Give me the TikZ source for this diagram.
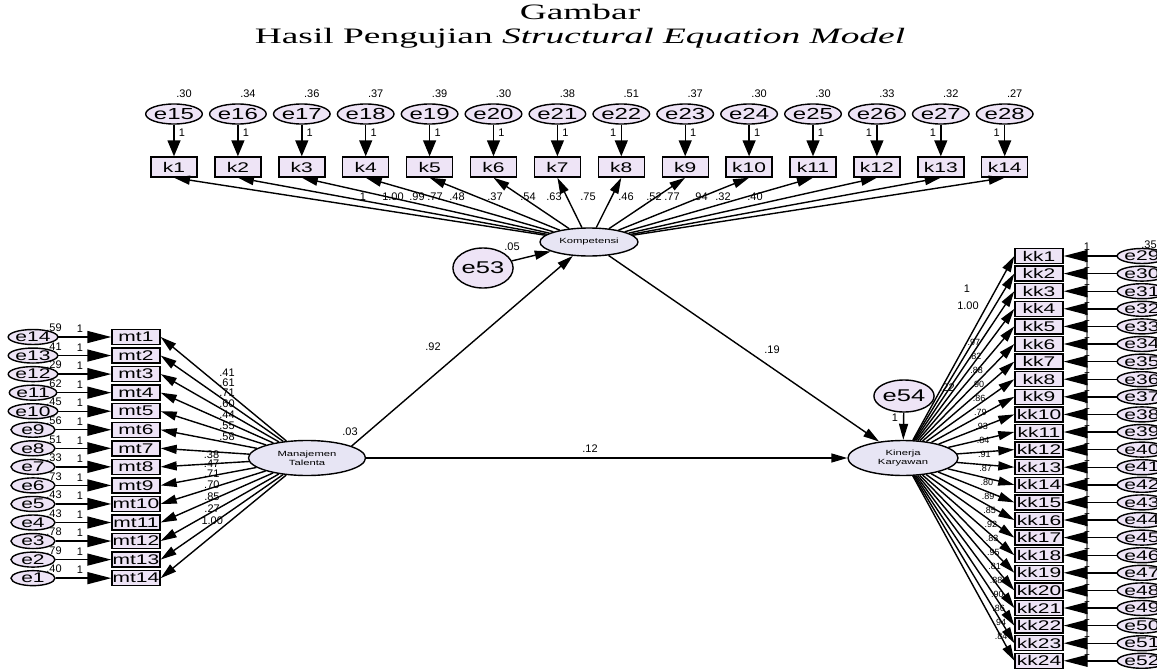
\documentclass[tikz,border=0pt]{standalone}
\usepackage{fontspec}
\setmainfont{Liberation Sans}
\newfontfamily\titlefont[FakeStretch=1.7]{Liberation Serif}
\newfontfamily\amosfont[FakeStretch=1.5]{Liberation Sans}
\usetikzlibrary{arrows.meta,shapes.geometric}
\definecolor{lavender}{RGB}{238,228,246}
\definecolor{latentfill}{RGB}{231,229,244}
\begin{document}
\begin{tikzpicture}[x=1pt, y=-1pt, line width=1.4pt,
    >={Triangle[length=16pt, width=9pt]},
    headtop/.style={-{Triangle[length=16pt, width=13pt]}},
    headside/.style={-{Triangle[length=24pt, width=12pt]}},
    errtop/.style={ellipse, draw, fill=lavender, inner sep=0pt, minimum width=52pt, minimum height=20pt, font=\amosfont\fontsize{16}{16}\selectfont},
    errside/.style={ellipse, draw, fill=lavender, inner sep=0pt, minimum width=44pt, minimum height=15pt, font=\amosfont\fontsize{14}{14}\selectfont},
    obsbox/.style={rectangle, draw, fill=lavender, inner sep=0pt, minimum width=46pt, minimum height=20pt, font=\amosfont\fontsize{14}{14}\selectfont},
    obsside/.style={rectangle, draw, fill=lavender, inner sep=0pt, minimum width=48pt, minimum height=15pt, font=\amosfont\fontsize{14}{14}\selectfont},
    latent/.style={ellipse, draw, fill=latentfill, inner sep=0pt, align=center, font=\amosfont\fontsize{7.5}{9}\selectfont},
    lbl/.style={inner sep=0pt, font=\fontsize{11}{11}\selectfont},
    coef/.style={inner sep=0pt, font=\fontsize{9}{9}\selectfont}]
    \useasboundingbox (0,0) rectangle (1157,669);
    % title
    \node[font=\titlefont\fontsize{22}{22}\selectfont] (title1) at (580,12) {Gambar};
    \node[font=\titlefont\fontsize{22}{22}\selectfont] (title2) at (580,38) {Hasil Pengujian \textit{Structural Equation Model}};
    % latent variables
    \node[latent, minimum width=98pt, minimum height=28pt] (komp) at (589,242) {Kompetensi};
    \node[latent, minimum width=117pt, minimum height=35pt] (mtal) at (307,458) {Manajemen\\Talenta};
    \node[latent, minimum width=110pt, minimum height=35pt] (kin) at (903,458) {Kinerja\\Karyawan};
    \node[errtop, minimum width=53pt, minimum height=40pt, font=\amosfont\fontsize{17}{17}\selectfont] (e53) at (483,268) {e53};
    \node[errtop, minimum width=58pt, minimum height=32pt, font=\amosfont\fontsize{17}{17}\selectfont] (e54) at (904,396) {e54};
    \draw[->] (e53) -- (komp);
    \draw[->] (e54) -- (kin);
    \draw[->] (mtal.15) -- (komp);
    \draw[->] (komp) -- (kin);
    \draw[->] (mtal) -- (kin);
    \node[lbl] at (512,247) {.05};
    \node[lbl] at (947,388) {.22};
    \node[lbl] at (895,418) {1};
    \node[lbl] at (350,432) {.03};
    \node[lbl] at (433,347) {.92};
    \node[lbl] at (772,350) {.19};
    \node[lbl] at (590,449) {.12};
    % Kompetensi indicators
    \foreach \i/\v/\s in {1/.30/1, 2/.34/1, 3/.36/1, 4/.37/1, 5/.39/1, 6/.30/1, 7/.38/1,
        8/.51/-1, 9/.37/1, 10/.30/1, 11/.30/1, 12/.33/-1, 13/.32/-1, 14/.27/-1} {
        \pgfmathsetmacro{\x}{174+63.9*(\i-1)}
        \pgfmathtruncatemacro{\j}{\i+14}
        \node[errtop] (e\j) at (\x,114) {e\j};
        \node[obsbox] (k\i) at (\x,167) {k\i};
        \draw[headtop] (e\j) -- (k\i);
        \draw[->] (komp) -- (k\i.south);
        \node[lbl] at (\x+10,94) {\v};
        \node[lbl] at (\x+8*\s,133) {1};
    }
    \foreach \x/\v in {363/1, 393/1.00, 417/.99, 435/.77, 457/.48, 495/.37, 528/.54, 554/.63,
        588/.75, 626/.46, 654/.52, 672/.77, 700/.94, 723/.32, 755/.40}
        \node[lbl] at (\x,197) {\v};
    % Manajemen Talenta indicators
    \foreach \i/\v in {1/.59, 2/.41, 3/.29, 4/.62, 5/.45, 6/.56, 7/.51, 8/.33, 9/.73, 10/.43,
        11/.43, 12/.78, 13/.79, 14/.40} {
        \pgfmathsetmacro{\y}{337+18.55*(\i-1)}
        \node[lbl] at (54,\y-9) {\v};
        \node[lbl] at (80,\y-8) {1};
    }
    \foreach \i in {1,...,14} {
        \pgfmathsetmacro{\y}{337+18.55*(\i-1)}
        \pgfmathtruncatemacro{\j}{15-\i}
        \node[errside] (e\j) at (33,\y) {e\j};
        \node[obsside] (mt\i) at (136,\y) {mt\i};
        \draw[headside] (e\j) -- (mt\i);
        \draw[->] (mtal) -- (mt\i.east);
    }
    \foreach \y/\v in {373/.41, 383/.61, 393/.71, 404/.60, 415/.44, 426/.55, 437/.58}
        \node[lbl] at (227,\y) {\v};
    \foreach \y/\v in {455/.38, 464/.47, 474/.71, 485/.70, 497/.85, 509/.27, 521/1.00}
        \node[lbl] at (207+\y/100,\y) {\v};
    % Kinerja Karyawan indicators
    \foreach \i in {1,...,24} {
        \pgfmathsetmacro{\y}{256+17.6*(\i-1)}
        \pgfmathtruncatemacro{\j}{\i+28}
        \node[lbl] at (1087,\y-9) {1};
        \node[errside] (e\j) at (1142,\y) {e\j};
        \node[obsside] (kk\i) at (1039,\y) {kk\i};
        \draw[headside] (e\j) -- (kk\i.east);
        \draw[->] (kin) -- (kk\i.west);
    }
    \node[lbl] at (1149,245) {.35};
    \node[lbl] at (967,289) {1};
    \node[lbl] at (968,306) {1.00};
    \foreach \i/\v in {3/.97, 4/.82, 5/.88, 6/.90, 7/.86, 8/.79, 9/.93, 10/.84, 11/.91, 12/.87,
        13/.80, 14/.89, 15/.85, 16/.92, 17/.83, 18/.95, 19/.81, 20/.88, 21/.90, 22/.86, 23/.94, 24/.84}
        \node[coef] at (970+1.3*\i,300+14*\i) {\v};
\end{tikzpicture}
\end{document}
